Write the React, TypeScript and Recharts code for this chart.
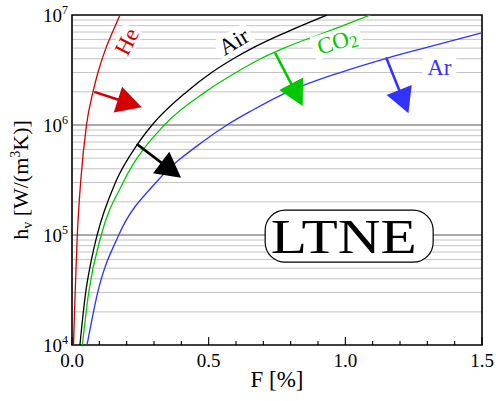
import React from 'react';
import {
  LineChart,
  Line,
  XAxis,
  YAxis,
  CartesianGrid,
  ReferenceLine,
  ReferenceDot,
  ReferenceArea,
} from 'recharts';

// ---------- data ----------
const heF = [0.0055, 0.0115, 0.0194, 0.0315, 0.053, 0.0768, 0.095, 0.124, 0.1486, 0.1756];
const heH = [1e4, 3e4, 1e5, 3e5, 1e6, 2e6, 3e6, 5e6, 7e6, 1e7];

const airF = [0.029, 0.05, 0.065, 0.092, 0.159, 0.24, 0.293, 0.419, 0.511, 0.59, 0.66, 0.785, 0.933];
const airH = [1e4, 3e4, 5e4, 1e5, 3e5, 6.7e5, 1e6, 2e6, 3e6, 4e6, 5e6, 7e6, 1e7];

const co2F = [0.038, 0.061, 0.107, 0.187, 0.338, 0.488, 0.6, 0.69, 0.775, 0.93, 1.092];
const co2H = [1e4, 3e4, 1e5, 3e5, 1e6, 2e6, 3e6, 4e6, 5e6, 7e6, 1e7];

const arF = [0.055, 0.094, 0.171, 0.307, 0.487, 0.567, 0.655, 0.79, 0.981, 1.151, 1.288, 1.5];
const arH = [1e4, 3e4, 1e5, 3e5, 7.3e5, 1e6, 1.34e6, 2e6, 3e6, 4.04e6, 5e6, 6.88e6];

const xTicks = [0, 0.1, 0.2, 0.3, 0.4, 0.5, 0.6, 0.7, 0.8, 0.9, 1.0, 1.1, 1.2, 1.3, 1.4, 1.5];
const xTickLabels: Record<string, string> = { '0': '0.0', '0.5': '0.5', '1': '1.0', '1.5': '1.5' };
const yTicks = [1e4, 1e5, 1e6, 1e7];
const yMajorGrid = [1e5, 1e6];
const yMinorGrid = [
  2e4, 3e4, 4e4, 5e4, 6e4, 7e4, 8e4, 9e4,
  2e5, 3e5, 4e5, 5e5, 6e5, 7e5, 8e5, 9e5,
  2e6, 3e6, 4e6, 5e6, 6e6, 7e6, 8e6, 9e6,
];

// annotation anchors in data coordinates
const arrows = [
  { name: 'He', from: [0.0816, 2.0e6], to: [0.255, 1.45e6] },
  { name: 'Air', from: [0.237, 6.72e5], to: [0.399, 3.32e5] },
  { name: 'CO2', from: [0.743, 4.54e6], to: [0.844, 1.49e6] },
  { name: 'Ar', from: [1.149, 4.12e6], to: [1.231, 1.28e6] },
];
const seriesLabels = [
  { name: 'He', at: [0.201, 5.72e6] },
  { name: 'Air', at: [0.592, 5.72e6] },
  { name: 'CO2', at: [0.97, 5.72e6] },
  { name: 'Ar', at: [1.344, 3.35e6] },
];
const ltneAt = [1.014, 9.75e4];

// ---------- styles ----------
const FONT = '"Liberation Serif", "Times New Roman", serif';
const COLORS: Record<string, string> = {
  He: '#d40000',
  Air: '#000000',
  CO2: '#00c800',
  Ar: '#3333ff',
};
const LABEL_STYLE: Record<string, { angle: number; w: number; h: number }> = {
  He: { angle: -63, w: 30, h: 22 },
  Air: { angle: -31, w: 38, h: 22 },
  CO2: { angle: -17, w: 50, h: 24 },
  Ar: { angle: 0, w: 34, h: 22 },
};

const toPts = (f: number[], h: number[]) => f.map((x, i) => ({ f: x, h: h[i] }));
const heData = toPts(heF, heH);
const airData = toPts(airF, airH);
const co2Data = toPts(co2F, co2H);
const arData = toPts(arF, arH);

const XTick = (props: any) => {
  const { x, y, payload } = props;
  const v = payload.value as number;
  const major = Math.abs(v * 2 - Math.round(v * 2)) < 1e-6;
  const key = String(Math.round(v * 10) / 10);
  return (
    <g>
      <line x1={x} x2={x} y1={y} y2={y - (major ? 8 : 4)} stroke="#000" strokeWidth={1.1} />
      {major && (
        <text x={x} y={y + 22} textAnchor="middle" fontFamily={FONT} fontSize={19} fill="#000">
          {xTickLabels[key]}
        </text>
      )}
    </g>
  );
};

const YTick = (props: any) => {
  const { x, y, payload } = props;
  const exp = Math.round(Math.log10(payload.value));
  return (
    <text x={x - 4} y={y + 6.5} textAnchor="end" fontFamily={FONT} fontSize={19} fill="#000">
      <tspan>10</tspan>
      <tspan dy={-8} fontSize={12}>
        {exp}
      </tspan>
    </text>
  );
};

const arrowShape = (color: string) => (p: any) => {
  const { x1, y1, x2, y2 } = p;
  const dx = x2 - x1;
  const dy = y2 - y1;
  const len = Math.hypot(dx, dy) || 1;
  const ux = dx / len;
  const uy = dy / len;
  const nx = -uy;
  const ny = ux;
  const L = 25;
  const W = 13.5;
  const bx = x2 - ux * L;
  const by = y2 - uy * L;
  return (
    <g>
      <line x1={x1} y1={y1} x2={bx + ux * 3} y2={by + uy * 3} stroke={color} strokeWidth={2.6} />
      <polygon
        points={`${x2},${y2} ${bx + nx * W},${by + ny * W} ${bx - nx * W},${by - ny * W}`}
        fill={color}
      />
    </g>
  );
};

const labelShape = (name: string) => (p: any) => {
  const { cx, cy } = p;
  const st = LABEL_STYLE[name];
  const color = COLORS[name];
  return (
    <g transform={`translate(${cx},${cy}) rotate(${st.angle})`}>
      <rect x={-st.w / 2} y={-st.h / 2} width={st.w} height={st.h} fill="#fff" />
      <text x={0} y={7.5} textAnchor="middle" fontFamily={FONT} fontSize={23} fill={color}>
        {name === 'CO2' ? (
          <>
            <tspan>CO</tspan>
            <tspan dy={3} fontSize={17}>
              2
            </tspan>
          </>
        ) : (
          name
        )}
      </text>
    </g>
  );
};

const ltneShape = (p: any) => {
  const { cx, cy } = p;
  const w = 168;
  const h = 52;
  return (
    <g>
      <rect
        x={cx - w / 2}
        y={cy - h / 2}
        width={w}
        height={h}
        rx={20}
        ry={20}
        fill="#fff"
        stroke="#000"
        strokeWidth={1.2}
      />
      <text
        x={cx - 5.5}
        y={cy + 17}
        textAnchor="middle"
        fontFamily={FONT}
        fontSize={49}
        fill="#000"
        textLength={146}
        lengthAdjust="spacingAndGlyphs"
      >
        LTNE
      </text>
    </g>
  );
};

const YLabel = (props: any) => {
  const vb = props.viewBox || { x: 0, y: 15, width: 72, height: 330 };
  const cy = vb.y + vb.height / 2;
  return (
    <text
      transform={`translate(28,${cy}) rotate(-90)`}
      textAnchor="middle"
      fontFamily={FONT}
      fontSize={22}
      fill="#000"
    >
      <tspan>h</tspan>
      <tspan dy={4} fontSize={14}>
        v
      </tspan>
      <tspan dy={-4}> [W/(m</tspan>
      <tspan dy={-8} fontSize={14}>
        3
      </tspan>
      <tspan dy={8}>K)]</tspan>
    </text>
  );
};

const XLabel = (props: any) => {
  const vb = props.viewBox || { x: 72, y: 345, width: 410, height: 56 };
  return (
    <text
      x={vb.x + vb.width / 2}
      y={vb.y + 42}
      textAnchor="middle"
      fontFamily={FONT}
      fontSize={23}
      fill="#000"
    >
      F [%]
    </text>
  );
};

export default function App() {
  return (
    <div style={{ position: 'absolute', left: 0, top: 0, width: 496, height: 401, background: '#fff' }}>
      <LineChart width={496} height={401} margin={{ top: 15, right: 14, bottom: 0, left: 0 }}>
        <CartesianGrid vertical={false} horizontalValues={yMinorGrid} stroke="#c4c4c4" strokeWidth={1} />
        <CartesianGrid vertical={false} horizontalValues={yMajorGrid} stroke="#555555" strokeWidth={1} />
        <XAxis
          dataKey="f"
          type="number"
          domain={[0, 1.5]}
          ticks={xTicks}
          interval={0}
          allowDataOverflow
          tickLine={false}
          axisLine={false}
          tickSize={0}
          tickMargin={0}
          tick={<XTick />}
          height={56}
          label={(p: any) => <XLabel {...p} />}
        />
        <YAxis
          type="number"
          scale="log"
          domain={[1e4, 1e7]}
          ticks={yTicks}
          interval={0}
          allowDataOverflow
          tickLine={false}
          axisLine={false}
          tickSize={0}
          tickMargin={0}
          tick={<YTick />}
          width={72}
          label={(p: any) => <YLabel {...p} />}
        />
        {seriesLabels.map((l) => (
          <ReferenceDot
            key={'lab' + l.name}
            x={l.at[0]}
            y={l.at[1]}
            ifOverflow="visible"
            shape={labelShape(l.name)}
          />
        ))}
        <ReferenceDot x={ltneAt[0]} y={ltneAt[1]} ifOverflow="visible" shape={ltneShape} />
        <Line data={heData} dataKey="h" type="monotone" stroke={COLORS.He} strokeWidth={1.3} dot={false} isAnimationActive={false} />
        <Line data={arData} dataKey="h" type="monotone" stroke={COLORS.Ar} strokeWidth={1.3} dot={false} isAnimationActive={false} />
        <Line data={co2Data} dataKey="h" type="monotone" stroke={COLORS.CO2} strokeWidth={1.3} dot={false} isAnimationActive={false} />
        <Line data={airData} dataKey="h" type="monotone" stroke={COLORS.Air} strokeWidth={1.3} dot={false} isAnimationActive={false} />
        {arrows.map((a) => (
          <ReferenceLine
            key={'arr' + a.name}
            segment={[
              { x: a.from[0], y: a.from[1] },
              { x: a.to[0], y: a.to[1] },
            ]}
            ifOverflow="visible"
            shape={arrowShape(COLORS[a.name])}
          />
        ))}
        <ReferenceArea
          x1={0}
          x2={1.5}
          y1={1e4}
          y2={1e7}
          ifOverflow="visible"
          fill="none"
          fillOpacity={0}
          stroke="#000"
          strokeWidth={1.6}
        />
      </LineChart>
    </div>
  );
}
